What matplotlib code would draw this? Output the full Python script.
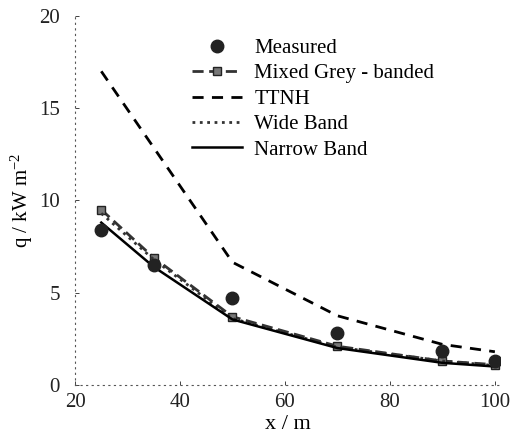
import matplotlib
matplotlib.use("Agg")
import matplotlib.pyplot as plt

plt.rcParams['font.family'] = ['Liberation Serif', 'DejaVu Serif']
plt.rcParams['mathtext.fontset'] = 'custom'
plt.rcParams['mathtext.rm'] = 'Liberation Serif'
plt.rcParams['mathtext.it'] = 'Liberation Serif:italic'

x = [25, 35, 50, 70, 90, 100]
measured = [8.4, 6.5, 4.7, 2.8, 1.85, 1.3]
mixed_grey = [9.5, 6.9, 3.7, 2.1, 1.3, 1.1]
ttnh_x = [25, 50, 70, 90, 100]
ttnh_y = [17.0, 6.65, 3.75, 2.2, 1.8]
wide_band = [9.3, 6.8, 3.6, 2.05, 1.3, 1.05]
narrow_band = [8.8, 6.4, 3.55, 2.0, 1.2, 1.0]

fig = plt.figure(figsize=(5.14, 4.43), dpi=100)
ax = fig.add_axes([0.146, 0.131, 0.827, 0.833])

ax.plot(x, measured, 'o', color='#222222', markersize=9, label='Measured', zorder=5)
ax.plot(x, mixed_grey, '--s', color='#333333', markersize=6, lw=2, dashes=(4, 2),
        markerfacecolor='#777777', markeredgecolor='#222222', label='Mixed Grey - banded')
ax.plot(ttnh_x, ttnh_y, '--', color='black', lw=2, dashes=(4, 3), label='TTNH')
ax.plot(x, wide_band, ':', color='#333333', lw=2, label='Wide Band')
ax.plot(x, narrow_band, '-', color='black', lw=1.8, label='Narrow Band')

ax.set_xlim(20, 101)
ax.set_ylim(0, 20)
ax.set_xticks([20, 40, 60, 80, 100])
ax.set_yticks([0, 5, 10, 15, 20])
for s in ['top', 'right']:
    ax.spines[s].set_visible(False)
for s in ['left', 'bottom']:
    ax.spines[s].set_linestyle((0, (1, 4)))
    ax.spines[s].set_linewidth(0.8)
    ax.spines[s].set_color('#555555')
ax.tick_params(direction='in', length=3, width=0.6, labelsize=15, colors='#222222')
ax.tick_params(axis='y', pad=11)
ax.tick_params(axis='x', pad=6)
ax.set_xlabel('x / m', fontsize=16, labelpad=2)
ax.set_ylabel('q / kW m$^{-2}$', fontsize=15, labelpad=3)

ax.legend(loc='upper center', bbox_to_anchor=(0.56, 0.99), frameon=False,
          fontsize=15, handlelength=2.4, labelspacing=0.28, handletextpad=0.6)

fig.savefig('out.png', dpi=100)
